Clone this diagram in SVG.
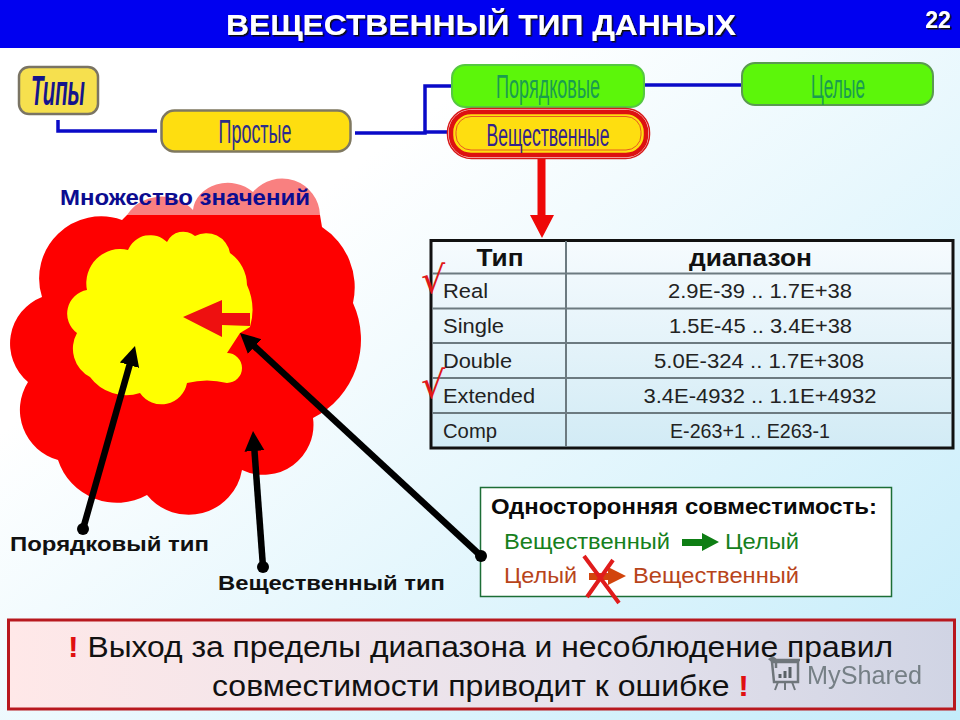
<svg xmlns="http://www.w3.org/2000/svg" width="960" height="720" viewBox="0 0 960 720">
<style>
text{font-family:"Liberation Sans",Arial,sans-serif}
.bl{fill:none;stroke:#0a0ac8;stroke-width:3.5}
.ar{fill:none;stroke:#000;stroke-width:6.5;marker-end:url(#bk)}
.dot{fill:#000}
.nt{font-size:33px;text-anchor:middle}
.lab{font-size:21px;font-weight:bold;fill:#111}
.row{font-size:20.5px;fill:#222}
.rng{font-size:20.5px;fill:#222;text-anchor:middle}
.hd{font-size:24.5px;font-weight:bold;fill:#111;text-anchor:middle}
.ln{stroke:#6c7a80;stroke-width:2}
</style>
<defs>
<linearGradient id="bg" x1="0" y1="0" x2="1" y2="1"><stop offset="0.3" stop-color="#ffffff"/><stop offset="1" stop-color="#c4ecfa"/></linearGradient>
<linearGradient id="tb" x1="0" y1="0" x2="0" y2="1"><stop offset="0" stop-color="#f6fbfe"/><stop offset="1" stop-color="#d2ebf5"/></linearGradient>
<linearGradient id="wb" x1="0" y1="0" x2="1" y2="0"><stop offset="0" stop-color="#ffe8e8"/><stop offset="0.6" stop-color="#e6e2ec"/><stop offset="1" stop-color="#d0d4e4"/></linearGradient>
<marker id="bk" markerUnits="userSpaceOnUse" markerWidth="22" markerHeight="22" refX="8" refY="10" orient="auto"><path d="M0,0L20,10L0,20z" fill="#000"/></marker>
<filter id="sh" x="-5%" y="-20%" width="110%" height="140%"><feDropShadow dx="1.5" dy="1.5" stdDeviation="0.6" flood-color="#111"/></filter>
</defs>
<rect width="960" height="720" fill="url(#bg)"/>
<rect width="960" height="48" fill="#0000f0"/>
<text x="226" y="35" font-size="29.5" font-weight="bold" fill="#fff" filter="url(#sh)" textLength="510" lengthAdjust="spacingAndGlyphs">ВЕЩЕСТВЕННЫЙ ТИП ДАННЫХ</text>
<text x="938" y="28" font-size="23" font-weight="bold" fill="#fff" text-anchor="middle" filter="url(#sh)">22</text>

<g id="connectors">
<path class="bl" d="M58,120V131H157"/>
<path class="bl" d="M355,133H425V86H452"/>
<path class="bl" d="M425,132H449"/>
<path class="bl" d="M641,85H741"/>
<path d="M537.500,155H545.500V215H554L542,238L530,215H537.500z" fill="#ee0808"/>
</g>

<g id="node-types"><rect x="19" y="67" width="79" height="47" rx="10" fill="#f6e04e" stroke="#7a7464" stroke-width="2.5"/>
<text x="58" y="105" font-size="42" font-weight="bold" font-style="italic" fill="#14148c" text-anchor="middle" textLength="54" lengthAdjust="spacingAndGlyphs">Типы</text></g>
<g id="node-simple"><rect x="161.500" y="110.500" width="189" height="41" rx="13" fill="#fede10" stroke="#7f7860" stroke-width="2.500"/>
<text class="nt" x="255" y="143" fill="#2c2c8c" textLength="73" lengthAdjust="spacingAndGlyphs">Простые</text></g>
<g id="node-ordinal"><rect x="452" y="65" width="192" height="42" rx="13" fill="#5cf60a" stroke="#55c840" stroke-width="2"/>
<text class="nt" x="548" y="98" fill="#1a9c50" textLength="104" lengthAdjust="spacingAndGlyphs">Порядковые</text></g>
<g id="node-integer"><rect x="742" y="63" width="191" height="42" rx="13" fill="#5cf60a" stroke="#5a9a50" stroke-width="2"/>
<text class="nt" x="838" y="98" fill="#1a9c50" textLength="54" lengthAdjust="spacingAndGlyphs">Целые</text></g>
<g id="node-real"><rect x="447.500" y="108.500" width="202" height="50" rx="24" fill="#fff" stroke="#d81818" stroke-width="1.500"/>
<rect x="451" y="112" width="195" height="43" rx="20" fill="#fede10" stroke="#dd1111" stroke-width="4.500"/>
<rect x="456" y="116.500" width="185" height="33.500" rx="15" fill="none" stroke="#e85a20" stroke-width="1"/>
<text x="548" y="146" font-size="31" text-anchor="middle" fill="#33238c" textLength="123" lengthAdjust="spacingAndGlyphs">Вещественные</text></g>

<g id="blob">
<path d="M127,215A40,36 0 0 1 193,210A35,30 0 0 1 253,192A38,38 0 0 1 320,215z" fill="#f98080"/>
<path d="M322,227L320,215H127L122,220A62,62 0 0 0 42,297A50,50 0 0 0 28,382A52,52 0 0 0 58,460A62,62 0 0 0 147,495A54,54 0 0 0 242,470A50,50 0 0 0 313,418A88,88 0 0 0 353,303A72,72 0 0 0 322,227z" fill="#fe0000"/>
<path d="M250,327L240,333L227,353A15,15 0 0 1 227,383Q207,378 187,383A26,26 0 0 1 140,393A45,45 0 0 1 90,377A32,32 0 0 1 77,333A24,24 0 0 1 87,290A34,34 0 0 1 128,250A24,24 0 0 1 167,242A18,18 0 0 1 195,236A24,24 0 0 1 230,253A40,40 0 0 1 247,285A60,60 0 0 1 250,327z" fill="#ffff00"/>
<path d="M250,313V326L222,325V337L183,317L222,300V313z" fill="#ee1010"/>
</g>
<text x="60" y="205" font-size="22" font-weight="bold" fill="#0c0c90" textLength="250" lengthAdjust="spacingAndGlyphs">Множество значений</text>
<text class="lab" x="10" y="551" textLength="199" lengthAdjust="spacingAndGlyphs">Порядковый тип</text>
<text class="lab" x="218" y="590" textLength="227" lengthAdjust="spacingAndGlyphs">Вещественный тип</text>

<g id="table">
<rect x="431" y="240.500" width="522" height="207.500" fill="url(#tb)" stroke="#111" stroke-width="3"/>
<path class="ln" d="M432,273.500H952M432,308.500H952M432,343H952M432,378H952M432,413H952M566,241V447"/>
<text class="hd" x="500" y="266" textLength="47" lengthAdjust="spacingAndGlyphs">Тип</text><text class="hd" x="750.500" y="266" textLength="123" lengthAdjust="spacingAndGlyphs">диапазон</text>
<text class="row" x="443" y="298" textLength="45" lengthAdjust="spacingAndGlyphs">Real</text><text class="rng" x="760" y="298" textLength="184" lengthAdjust="spacingAndGlyphs">2.9E-39 .. 1.7E+38</text>
<text class="row" x="443" y="333" textLength="61" lengthAdjust="spacingAndGlyphs">Single</text><text class="rng" x="760.500" y="333" textLength="183" lengthAdjust="spacingAndGlyphs">1.5E-45 .. 3.4E+38</text>
<text class="row" x="443" y="368" textLength="69" lengthAdjust="spacingAndGlyphs">Double</text><text class="rng" x="759" y="368" textLength="210" lengthAdjust="spacingAndGlyphs">5.0E-324 .. 1.7E+308</text>
<text class="row" x="443" y="403" textLength="92" lengthAdjust="spacingAndGlyphs">Extended</text><text class="rng" x="760" y="403" textLength="233" lengthAdjust="spacingAndGlyphs">3.4E-4932 .. 1.1E+4932</text>
<text class="row" x="443" y="438" textLength="54" lengthAdjust="spacingAndGlyphs">Comp</text><text class="rng" x="750" y="438" textLength="160" lengthAdjust="spacingAndGlyphs">E-263+1 .. E263-1</text>
<text x="421" y="293" font-size="38" fill="#e01818" style="font-family:'DejaVu Sans',sans-serif">√</text>
<text x="421" y="398" font-size="38" fill="#e01818" style="font-family:'DejaVu Sans',sans-serif">√</text>
</g>

<g id="compat">
<rect x="480.500" y="487.500" width="411" height="109" fill="#fff" stroke="#1c6e36" stroke-width="1.500"/>
<text x="491" y="514" font-size="22" font-weight="bold" fill="#0a0a0a" textLength="386" lengthAdjust="spacingAndGlyphs">Односторонняя совместимость:</text>
<text x="504" y="549" font-size="22" fill="#16801c" textLength="166" lengthAdjust="spacingAndGlyphs">Вещественный</text>
<path d="M682,539H702V533L719,542L702,551V546H682z" fill="#0e7e14"/>
<text x="725" y="549" font-size="22" fill="#16801c" textLength="74" lengthAdjust="spacingAndGlyphs">Целый</text>
<text x="504" y="583" font-size="22" fill="#b8441a" textLength="73" lengthAdjust="spacingAndGlyphs">Целый</text>
<path d="M589,573H608V567L626,576L608,585V580H589z" fill="#d2440c"/>
<text x="633" y="583" font-size="22" fill="#b8441a" textLength="166" lengthAdjust="spacingAndGlyphs">Вещественный</text>
<path d="M584,556L619,603M613,560L587,597" stroke="#e01c1c" stroke-width="4" fill="none"/>
</g>

<g id="pointers">
<path class="ar" d="M83,529L131.700,357.500"/><circle class="dot" cx="83" cy="529" r="6"/>
<path class="ar" d="M263,567L253.900,443"/><circle class="dot" cx="263" cy="567" r="6"/>
<path class="ar" d="M481,556L248.800,341.100"/><circle class="dot" cx="481" cy="556" r="6"/>
</g>

<g id="warning">
<rect x="8.500" y="620" width="946" height="89" fill="url(#wb)" stroke="#b8181e" stroke-width="3"/>
<text x="68" y="657" font-size="30" fill="#111" textLength="825" lengthAdjust="spacingAndGlyphs"><tspan fill="#e01010" font-weight="bold">!</tspan> Выход за пределы диапазона и несоблюдение правил</text>
<text x="212" y="696" font-size="30" fill="#111" textLength="537" lengthAdjust="spacingAndGlyphs">совместимости приводит к ошибке <tspan fill="#e01010" font-weight="bold">!</tspan></text>
</g>

<g id="watermark" opacity="0.8">
<path d="M772,662H798V682H774z" fill="none" stroke="#555e60" stroke-width="2.500"/>
<path d="M769,660Q772,656 776,660V668M770,660H800" fill="none" stroke="#555e60" stroke-width="2.500"/>
<path d="M780,678V674M785,678V671M790,678V667" stroke="#3a4446" stroke-width="3"/>
<path d="M778,682L775,690M785,682V690M792,682L795,690" stroke="#555e60" stroke-width="2"/>
<text x="807" y="684" font-size="25" fill="#5e6a6e" textLength="115" lengthAdjust="spacingAndGlyphs">MyShared</text>
</g>
</svg>
